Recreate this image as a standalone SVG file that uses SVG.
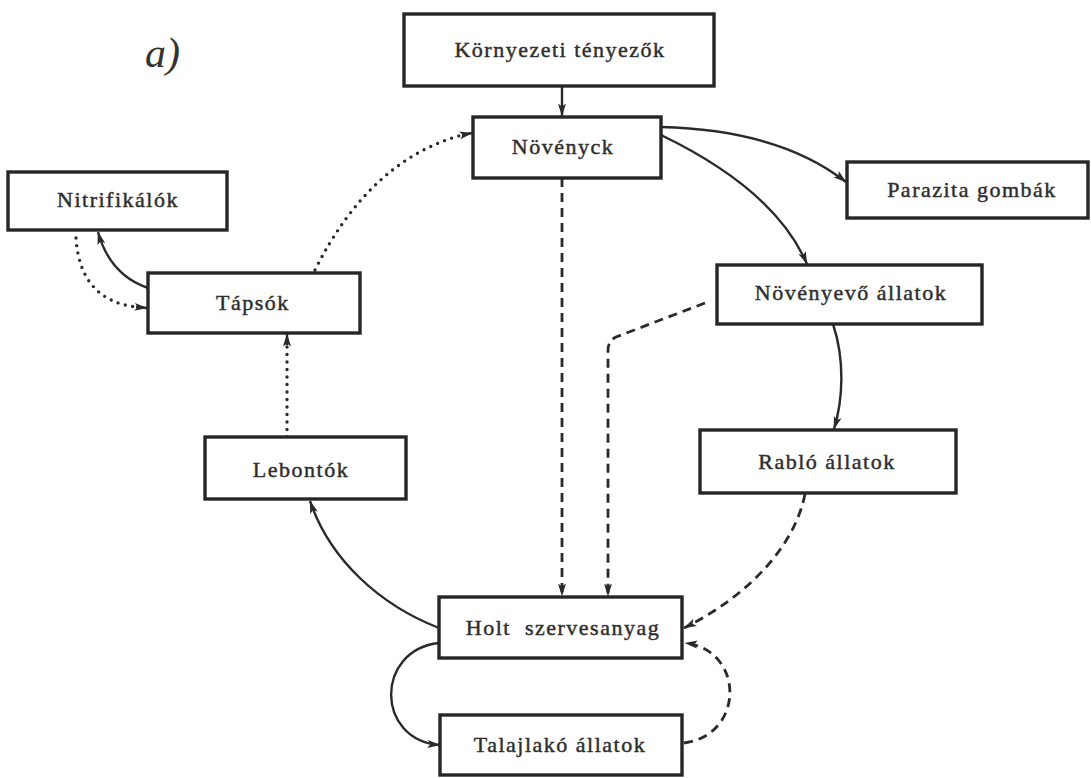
<svg xmlns="http://www.w3.org/2000/svg" width="1091" height="778" viewBox="0 0 1091 778">
  <style>
    .box { fill: #fff; stroke: #262626; stroke-width: 3.4; }
    .lbl { font-family: "Liberation Serif", "Times New Roman", serif; font-size: 22px; letter-spacing: 1.5px; fill: #2e2e2e; stroke: #2e2e2e; stroke-width: 0.45; text-anchor: middle; }
    .solid { fill: none; stroke: #2a2a2a; stroke-width: 2.4; }
    .dash { fill: none; stroke: #2a2a2a; stroke-width: 2.8; stroke-dasharray: 9 6; }
    .dot { fill: none; stroke: #2a2a2a; stroke-width: 3.4; stroke-linecap: round; stroke-dasharray: 0 7.5; }
  </style>
  <defs>
    <marker id="arr" viewBox="0 0 13 9" refX="12.5" refY="4.5" markerWidth="13" markerHeight="9" markerUnits="userSpaceOnUse" orient="auto">
      <path d="M0,0.5 L13,4.5 L0,8.5 L3,4.5 Z" fill="#2a2a2a"/>
    </marker>
  </defs>

  <rect width="1091" height="778" fill="#fff"/>

  <text x="145" y="67" font-family="Liberation Serif, serif" font-style="italic" font-size="42" fill="#333">a)</text>

  <g id="connectors">
    <!-- environment to plants -->
    <path class="solid" d="M562 86 L562 116" marker-end="url(#arr)"/>
    <!-- plants to parasitic fungi -->
    <path class="solid" d="M661 127 Q 780 130 846 182" marker-end="url(#arr)"/>
    <!-- plants to herbivores -->
    <path class="solid" d="M661 135 Q 775 190 807 264" marker-end="url(#arr)"/>
    <!-- herbivores to predators -->
    <path class="solid" d="M833 324 C 845 360, 843 400, 834 429" marker-end="url(#arr)"/>
    <!-- predators to dead organic matter -->
    <path class="dash" d="M805 494 C 795 545, 750 595, 684 628" marker-end="url(#arr)"/>
    <!-- herbivores to dead organic matter -->
    <path class="dash" d="M705 303 L 616 337 Q 608 341 608 350 L 608 596" marker-end="url(#arr)"/>
    <!-- plants to dead organic matter -->
    <path class="dash" d="M562 178 L562 596" marker-end="url(#arr)"/>
    <!-- dead organic matter to decomposers -->
    <path class="solid" d="M439 628 C 380 605, 330 560, 310 501" marker-end="url(#arr)"/>
    <!-- decomposers to nutrient salts -->
    <path class="dot" d="M287 437 L287 340"/>
    <path class="solid" d="M287 345 L287 334" marker-end="url(#arr)"/>
    <!-- nutrient salts to plants -->
    <path class="dot" d="M315 270 Q 370 160 462 135"/>
    <path class="solid" d="M462 135 L472 133" marker-end="url(#arr)"/>
    <!-- nutrient salts to nitrifiers -->
    <path class="solid" d="M148 288 Q 110 275 98 232" marker-end="url(#arr)"/>
    <!-- nitrifiers to nutrient salts -->
    <path class="dot" d="M76 238 Q 80 300 136 307"/>
    <path class="solid" d="M136 307 L147 308" marker-end="url(#arr)"/>
    <!-- dead organic matter to soil fauna -->
    <path class="solid" d="M439 643 C 375 650, 375 740, 440 745" marker-end="url(#arr)"/>
    <!-- soil fauna back to dead organic matter -->
    <path class="dash" d="M684 743 C 745 735, 745 650, 685 643" marker-end="url(#arr)"/>
  </g>

  <g id="kornyezeti">
    <rect class="box" x="404" y="14" width="310" height="72"/>
    <text class="lbl" x="560" y="57">Környezeti tényezők</text>
  </g>
  <g id="novenyek">
    <rect class="box" x="473" y="117" width="188" height="61"/>
    <text class="lbl" x="563" y="154">Növényck</text>
  </g>
  <g id="parazita">
    <rect class="box" x="847" y="162" width="241" height="56"/>
    <text class="lbl" x="972" y="197">Parazita gombák</text>
  </g>
  <g id="nitrifikalok">
    <rect class="box" x="8" y="172" width="219" height="58"/>
    <text class="lbl" x="118" y="207">Nitrifikálók</text>
  </g>
  <g id="tapsok">
    <rect class="box" x="148" y="273" width="212" height="60"/>
    <text class="lbl" x="253" y="310">Tápsók</text>
  </g>
  <g id="novenyevo">
    <rect class="box" x="717" y="265" width="265" height="59"/>
    <text class="lbl" x="851" y="300">Növényevő állatok</text>
  </g>
  <g id="lebontok">
    <rect class="box" x="205" y="437" width="201" height="62"/>
    <text class="lbl" x="301" y="477">Lebontók</text>
  </g>
  <g id="rablo">
    <rect class="box" x="700" y="430" width="256" height="63"/>
    <text class="lbl" x="827" y="469">Rabló állatok</text>
  </g>
  <g id="holt">
    <rect class="box" x="439" y="597" width="243" height="61"/>
    <text class="lbl" x="563" y="635" xml:space="preserve">Holt  szervesanyag</text>
  </g>
  <g id="talajlako">
    <rect class="box" x="440" y="715" width="242" height="60"/>
    <text class="lbl" x="560" y="752">Talajlakó állatok</text>
  </g>
</svg>
